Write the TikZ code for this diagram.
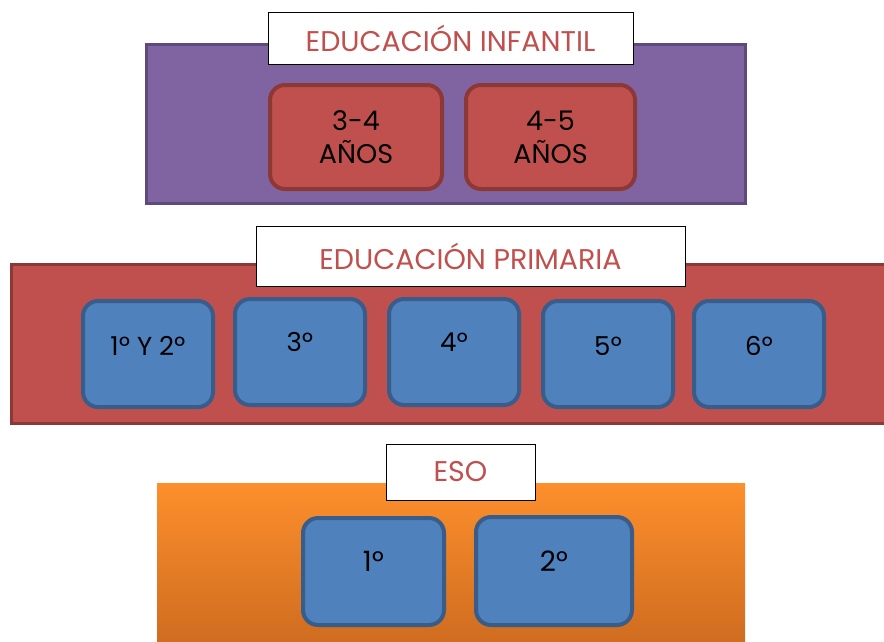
\documentclass[tikz,border=0pt]{standalone}
\usepackage{fontspec}
\setmainfont{Poppins}
\definecolor{purfill}{HTML}{8064A2}
\definecolor{purline}{HTML}{5E4A7C}
\definecolor{redfill}{HTML}{C0504D}
\definecolor{redline}{HTML}{8C3836}
\definecolor{bluefill}{HTML}{4F81BD}
\definecolor{blueline}{HTML}{385D8A}
\definecolor{orgtop}{HTML}{FD8F2C}
\definecolor{orgbot}{HTML}{CC6A1F}
\tikzset{
  band/.style={draw, line width=3pt, rectangle, inner sep=0pt},
  titlebox/.style={draw=black, fill=white, line width=0.8pt, inner sep=0pt, text=redfill, font=\fontsize{28.5}{30}\selectfont},
  redbox/.style={draw=redline, fill=redfill, line width=4pt, rounded corners=15pt, inner sep=0pt, align=center, font=\fontsize{27}{33}\selectfont},
  bluebox/.style={draw=blueline, fill=bluefill, line width=4pt, rounded corners=15pt, inner sep=0pt},
  lbl/.style={font=\fontsize{26}{30}\selectfont, inner sep=0pt, anchor=base}
}
\begin{document}
\begin{tikzpicture}[x=1pt,y=-1pt]
\useasboundingbox (0,0) rectangle (884,641);
\clip (0,0) rectangle (884,641);
\fill[white] (0,0) rectangle (884,641);
% Infantil
\node[band, draw=purline, fill=purfill, minimum width=599pt, minimum height=159pt] (inf) at (446,124) {};
\node[titlebox, minimum width=365pt, minimum height=52pt] (tinf) at (450.5,38) {EDUCACIÓN INFANTIL};
\node[redbox, minimum width=172pt, minimum height=104pt] (a34) at (356,137) {3-4\\AÑOS};
\node[redbox, minimum width=169pt, minimum height=104pt] (a45) at (550.5,137) {4-5\\AÑOS};
% Primaria
\node[band, draw=redline, fill=redfill, minimum width=900pt, minimum height=159pt] (pri) at (461,344) {};
\node[titlebox, minimum width=429pt, minimum height=60pt] (tpri) at (470.5,256) {EDUCACIÓN PRIMARIA};
\node[bluebox, minimum width=130pt, minimum height=106pt] (p12) at (148,354) {};
\node[bluebox, minimum width=130pt, minimum height=106pt] (p3) at (300,352) {};
\node[bluebox, minimum width=130pt, minimum height=106pt] (p4) at (454,352) {};
\node[bluebox, minimum width=130pt, minimum height=106pt] (p5) at (608,354) {};
\node[bluebox, minimum width=130pt, minimum height=106pt] (p6) at (759,354) {};
\node[lbl] (l12) at (148,355) {1º Y 2º};
\node[lbl] (l3) at (300,351) {3º};
\node[lbl] (l4) at (454,351) {4º};
\node[lbl] (l5) at (608,355) {5º};
\node[lbl] (l6) at (759,355) {6º};
% ESO
\node[rectangle, inner sep=0pt, top color=orgtop, bottom color=orgbot, minimum width=588pt, minimum height=170pt] (eso) at (451,568) {};
\node[titlebox, minimum width=149pt, minimum height=56pt] (teso) at (460.5,472) {ESO};
\node[bluebox, minimum width=141pt, minimum height=107pt] (e1) at (373.5,571.5) {};
\node[bluebox, minimum width=156pt, minimum height=108pt] (e2) at (554,571) {};
\node[lbl, font=\fontsize{28}{30}\selectfont] (le1) at (373.5,571) {1º};
\node[lbl, font=\fontsize{28}{30}\selectfont] (le2) at (554,571) {2º};
\end{tikzpicture}
\end{document}
